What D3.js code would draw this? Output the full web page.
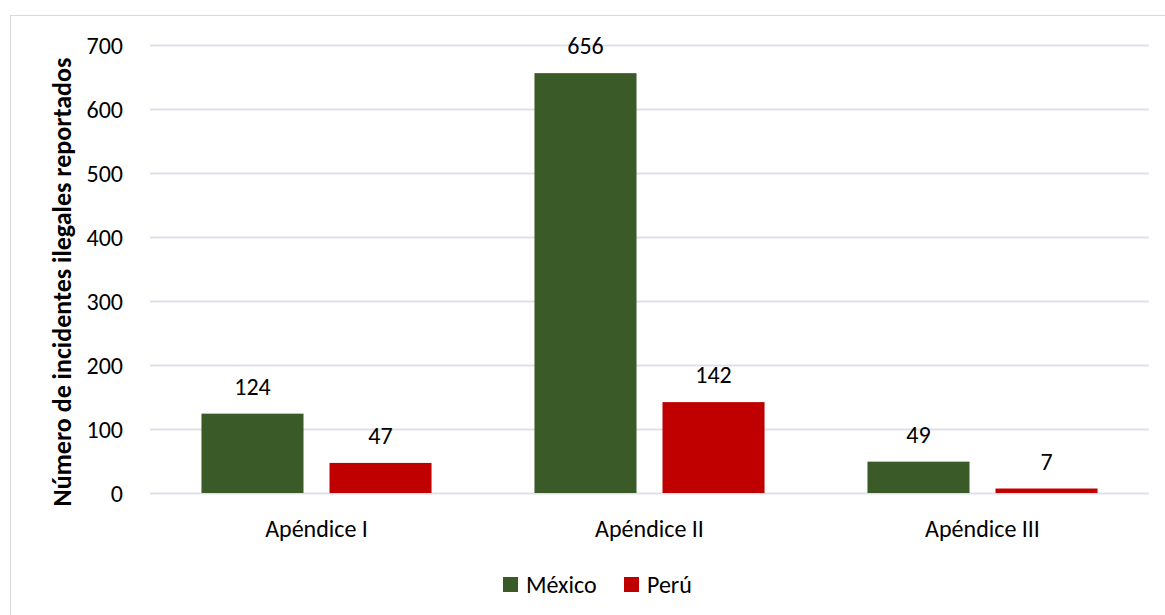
<!DOCTYPE html>
<html>
<head>
<meta charset="utf-8">
<script src="https://cdn.jsdelivr.net/npm/d3@7"></script>
<style>
  html, body { margin: 0; padding: 0; background: #ffffff; }
  svg { display: block; }
  text { font-family: Carlito, Calibri, Lato, "Open Sans", sans-serif; fill: #000; }
</style>
</head>
<body>
<svg id="chart" width="1165" height="615"></svg>
<script>
// Reported illegal incidents by CITES appendix
const categories = ["Apéndice I", "Apéndice II", "Apéndice III"];
const seriesNames = ["México", "Perú"];
const mexicoValues = [124, 656, 49];
const peruValues = [47, 142, 7];
const yTicks = [0, 100, 200, 300, 400, 500, 600, 700];
const seriesColors = ["#3a5a27", "#c00000"];

const rows = categories.map((c, i) => ({
  category: c,
  values: [
    { series: seriesNames[0], value: mexicoValues[i] },
    { series: seriesNames[1], value: peruValues[i] }
  ]
}));

const svg = d3.select("#chart");
const W = 1165, H = 615;
const plot = { left: 150, right: 1149, top: 45, bottom: 493 };
const fontSize = 24;
const fontFamily = "Carlito, Calibri, Lato, 'Open Sans', sans-serif";

// chart frame
svg.append("rect")
  .attr("x", 10.5).attr("y", 15.5)
  .attr("width", W - 4).attr("height", H)
  .attr("fill", "#fff").attr("stroke", "#d9d9d9").attr("stroke-width", 1);

const y = d3.scaleLinear().domain([0, 700]).range([plot.bottom, plot.top]);
const x0 = d3.scaleBand().domain(categories).range([plot.left, plot.right]).padding(0);
const x1 = d3.scaleBand().domain(seriesNames).range([0, x0.bandwidth()])
  .paddingInner(0.203).paddingOuter(0.402);
const color = d3.scaleOrdinal().domain(seriesNames).range(seriesColors);

// gridlines
svg.append("g")
  .selectAll("line")
  .data(yTicks)
  .join("line")
  .attr("x1", plot.left).attr("x2", plot.right)
  .attr("y1", d => Math.round(y(d)) + 0.5).attr("y2", d => Math.round(y(d)) + 0.5)
  .attr("stroke", "#dde1e8").attr("stroke-width", 2);

// y axis labels
const yAxis = d3.axisLeft(y).tickValues(yTicks).tickSize(0).tickPadding(0);
const gy = svg.append("g").attr("transform", `translate(${plot.left - 27},0)`).call(yAxis);
gy.select(".domain").remove();
gy.selectAll("text")
  .attr("dy", "0.35em")
  .style("font-size", fontSize + "px")
  .style("font-family", fontFamily)
  .attr("fill", "#000");

// x axis labels
const xAxis = d3.axisBottom(x0).tickSize(0).tickPadding(0);
const gx = svg.append("g").attr("transform", `translate(0,${plot.bottom})`).call(xAxis);
gx.select(".domain").remove();
gx.selectAll("text")
  .attr("y", 44)
  .attr("dy", 0)
  .style("font-size", fontSize + "px")
  .style("font-family", fontFamily)
  .attr("fill", "#000");

// bars
const groups = svg.append("g")
  .selectAll("g")
  .data(rows)
  .join("g")
  .attr("transform", d => `translate(${x0(d.category)},0)`);

groups.selectAll("rect")
  .data(d => d.values)
  .join("rect")
  .attr("x", d => x1(d.series))
  .attr("width", x1.bandwidth())
  .attr("y", d => y(d.value))
  .attr("height", d => y(0) - y(d.value))
  .attr("fill", d => color(d.series));

// value labels
groups.selectAll("text.value")
  .data(d => d.values)
  .join("text")
  .attr("class", "value")
  .attr("x", d => x1(d.series) + x1.bandwidth() / 2)
  .attr("y", d => y(d.value) - 19)
  .attr("text-anchor", "middle")
  .style("font-size", fontSize + "px")
  .text(d => d.value);

// y axis title
svg.append("text")
  .attr("transform", `translate(71,282) rotate(-90)`)
  .attr("text-anchor", "middle")
  .style("font-size", "26px")
  .style("font-weight", "bold")
  .text("Número de incidentes ilegales reportados");

// legend
const legend = svg.append("g").attr("transform", "translate(503,577)");
const legendOffsets = [0, 121];
seriesNames.forEach((s, i) => {
  const g = legend.append("g").attr("transform", `translate(${legendOffsets[i]},0)`);
  g.append("rect").attr("width", 15).attr("height", 15).attr("fill", color(s));
  g.append("text").attr("x", 23).attr("y", 15.5).style("font-size", fontSize + "px").text(s);
});
</script>
</body>
</html>
